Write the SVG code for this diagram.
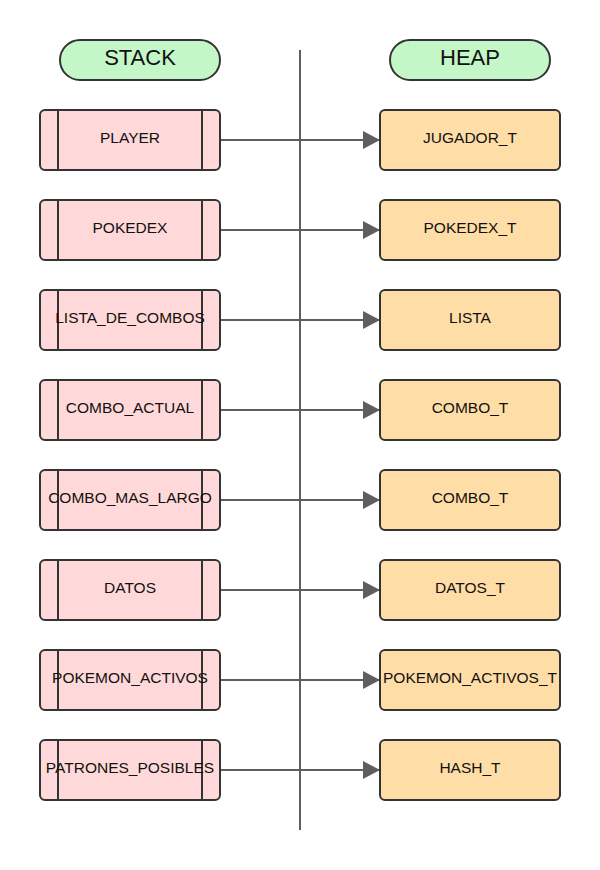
<svg xmlns="http://www.w3.org/2000/svg" width="600" height="870" viewBox="0 0 600 870">
<defs>
<marker id="ah" markerWidth="17" markerHeight="18" refX="16" refY="9" orient="auto" markerUnits="userSpaceOnUse">
<path d="M0,0 L17,9 L0,18 Z" fill="#5e5e5e"/>
</marker>
<style>
.pill{fill:#c3f7c8;stroke:#333;stroke-width:2}
.stk{fill:#ffd9d9;stroke:#333;stroke-width:2}
.hp{fill:#ffdda6;stroke:#333;stroke-width:2}
.bar{stroke:#333;stroke-width:2}
.t{font-family:"Liberation Sans",Arial,sans-serif;font-size:15.5px;fill:#111;text-anchor:middle;dominant-baseline:central}
.h{font-family:"Liberation Sans",Arial,sans-serif;font-size:22px;fill:#111;text-anchor:middle;dominant-baseline:central}
.c{stroke:#5e5e5e;stroke-width:2;fill:none}
</style>
</defs>
<rect width="600" height="870" fill="#fff"/>
<g id="connectors">
<line class="c" x1="300" y1="50" x2="300" y2="830"/>
<line class="c" x1="220" y1="140" x2="379" y2="140" marker-end="url(#ah)"/>
<line class="c" x1="220" y1="230" x2="379" y2="230" marker-end="url(#ah)"/>
<line class="c" x1="220" y1="320" x2="379" y2="320" marker-end="url(#ah)"/>
<line class="c" x1="220" y1="410" x2="379" y2="410" marker-end="url(#ah)"/>
<line class="c" x1="220" y1="500" x2="379" y2="500" marker-end="url(#ah)"/>
<line class="c" x1="220" y1="590" x2="379" y2="590" marker-end="url(#ah)"/>
<line class="c" x1="220" y1="680" x2="379" y2="680" marker-end="url(#ah)"/>
<line class="c" x1="220" y1="770" x2="379" y2="770" marker-end="url(#ah)"/>
</g>
<g id="stack-title"><rect class="pill" x="60" y="40" width="160" height="40" rx="20"/><text class="h" x="140" y="57">STACK</text></g>
<g id="heap-title"><rect class="pill" x="390" y="40" width="160" height="40" rx="20"/><text class="h" x="470" y="57">HEAP</text></g>

<g id="s-player"><rect class="stk" x="40" y="110" width="180" height="60" rx="5"/><line class="bar" x1="58" y1="110" x2="58" y2="170"/><line class="bar" x1="202" y1="110" x2="202" y2="170"/><text class="t" x="130" y="137">PLAYER</text></g>
<g id="s-pokedex"><rect class="stk" x="40" y="200" width="180" height="60" rx="5"/><line class="bar" x1="58" y1="200" x2="58" y2="260"/><line class="bar" x1="202" y1="200" x2="202" y2="260"/><text class="t" x="130" y="227">POKEDEX</text></g>
<g id="s-lista"><rect class="stk" x="40" y="290" width="180" height="60" rx="5"/><line class="bar" x1="58" y1="290" x2="58" y2="350"/><line class="bar" x1="202" y1="290" x2="202" y2="350"/><text class="t" x="130" y="317">LISTA_DE_COMBOS</text></g>
<g id="s-combo-actual"><rect class="stk" x="40" y="380" width="180" height="60" rx="5"/><line class="bar" x1="58" y1="380" x2="58" y2="440"/><line class="bar" x1="202" y1="380" x2="202" y2="440"/><text class="t" x="130" y="407">COMBO_ACTUAL</text></g>
<g id="s-combo-largo"><rect class="stk" x="40" y="470" width="180" height="60" rx="5"/><line class="bar" x1="58" y1="470" x2="58" y2="530"/><line class="bar" x1="202" y1="470" x2="202" y2="530"/><text class="t" x="130" y="497">COMBO_MAS_LARGO</text></g>
<g id="s-datos"><rect class="stk" x="40" y="560" width="180" height="60" rx="5"/><line class="bar" x1="58" y1="560" x2="58" y2="620"/><line class="bar" x1="202" y1="560" x2="202" y2="620"/><text class="t" x="130" y="587">DATOS</text></g>
<g id="s-pokemon"><rect class="stk" x="40" y="650" width="180" height="60" rx="5"/><line class="bar" x1="58" y1="650" x2="58" y2="710"/><line class="bar" x1="202" y1="650" x2="202" y2="710"/><text class="t" x="130" y="677">POKEMON_ACTIVOS</text></g>
<g id="s-patrones"><rect class="stk" x="40" y="740" width="180" height="60" rx="5"/><line class="bar" x1="58" y1="740" x2="58" y2="800"/><line class="bar" x1="202" y1="740" x2="202" y2="800"/><text class="t" x="130" y="767">PATRONES_POSIBLES</text></g>

<g id="h-jugador"><rect class="hp" x="380" y="110" width="180" height="60" rx="5"/><text class="t" x="470" y="137">JUGADOR_T</text></g>
<g id="h-pokedex"><rect class="hp" x="380" y="200" width="180" height="60" rx="5"/><text class="t" x="470" y="227">POKEDEX_T</text></g>
<g id="h-lista"><rect class="hp" x="380" y="290" width="180" height="60" rx="5"/><text class="t" x="470" y="317">LISTA</text></g>
<g id="h-combo1"><rect class="hp" x="380" y="380" width="180" height="60" rx="5"/><text class="t" x="470" y="407">COMBO_T</text></g>
<g id="h-combo2"><rect class="hp" x="380" y="470" width="180" height="60" rx="5"/><text class="t" x="470" y="497">COMBO_T</text></g>
<g id="h-datos"><rect class="hp" x="380" y="560" width="180" height="60" rx="5"/><text class="t" x="470" y="587">DATOS_T</text></g>
<g id="h-pokemon"><rect class="hp" x="380" y="650" width="180" height="60" rx="5"/><text class="t" x="470" y="677">POKEMON_ACTIVOS_T</text></g>
<g id="h-hash"><rect class="hp" x="380" y="740" width="180" height="60" rx="5"/><text class="t" x="470" y="767">HASH_T</text></g>
</svg>
